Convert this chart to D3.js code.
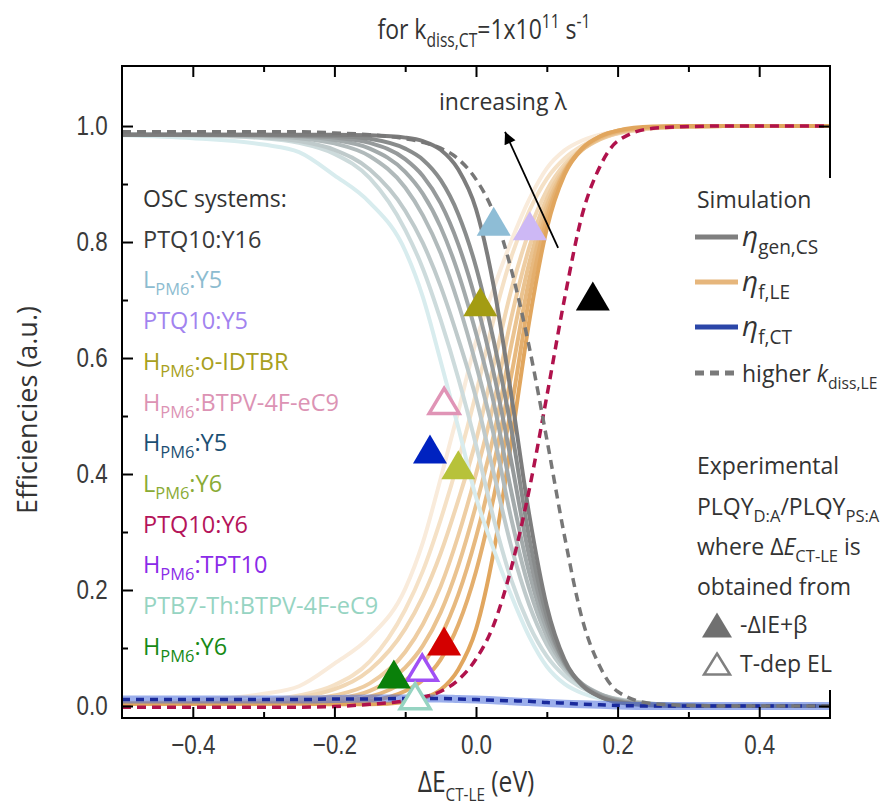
<!DOCTYPE html>
<html>
<head>
<meta charset="utf-8">
<script src="https://cdn.jsdelivr.net/npm/d3@7"></script>
<style>
body { margin: 0; background: #fff; }
svg { display: block; font-family: "Open Sans", sans-serif; }
text { white-space: pre; }
.tick text { font-size: 28px; fill: #3a3a3a; }
.tick line { stroke: #000; stroke-width: 2; }
</style>
</head>
<body>
<svg id="chart" width="892" height="809"></svg>
<script>
// energy offset grid (eV)
var xs = [-0.5,-0.4,-0.3,-0.25,-0.2,-0.15,-0.1,-0.075,-0.05,-0.025,0,0.025,0.05,0.075,0.1,0.125,0.15,0.175,0.2,0.25,0.3,0.35,0.5];

// eta_gen,CS for increasing lambda (dark -> light)
var genCS0 = [0.985,0.985,0.985,0.985,0.985,0.984,0.980,0.974,0.959,0.925,0.857,0.724,0.535,0.331,0.172,0.080,0.036,0.016,0.007,0.001,0,0,0];
var genCS1 = [0.985,0.985,0.985,0.984,0.983,0.978,0.961,0.942,0.907,0.848,0.757,0.630,0.477,0.291,0.155,0.076,0.035,0.016,0.007,0.002,0,0,0];
var genCS2 = [0.985,0.985,0.984,0.983,0.980,0.971,0.943,0.914,0.867,0.796,0.698,0.574,0.421,0.259,0.144,0.075,0.037,0.018,0.009,0.002,0.001,0,0];
var genCS3 = [0.985,0.985,0.984,0.982,0.976,0.961,0.921,0.883,0.826,0.746,0.643,0.523,0.369,0.230,0.132,0.072,0.038,0.020,0.010,0.003,0.001,0,0];
var genCS4 = [0.985,0.985,0.983,0.979,0.970,0.948,0.894,0.846,0.781,0.694,0.589,0.468,0.322,0.203,0.120,0.068,0.038,0.021,0.011,0.003,0.001,0,0];
var genCS5 = [0.985,0.984,0.980,0.974,0.959,0.925,0.854,0.798,0.724,0.633,0.531,0.402,0.274,0.175,0.106,0.062,0.036,0.020,0.012,0.004,0.001,0,0];
var genCS6 = [0.985,0.984,0.979,0.971,0.952,0.910,0.821,0.754,0.666,0.565,0.450,0.323,0.217,0.140,0.086,0.052,0.031,0.018,0.011,0.004,0.001,0,0];
var genCS7 = [0.984,0.979,0.968,0.955,0.915,0.868,0.785,0.705,0.595,0.480,0.360,0.270,0.190,0.120,0.068,0.038,0.022,0.013,0.008,0.003,0.001,0.0005,0];

// eta_f,LE for increasing lambda (dark -> light)
var fLE0 = [0.004,0.004,0.004,0.004,0.003,0.003,0.007,0.013,0.028,0.063,0.132,0.266,0.457,0.662,0.823,0.916,0.961,0.982,0.992,0.999,1,1,1];
var fLE1 = [0.004,0.004,0.004,0.005,0.005,0.009,0.026,0.045,0.080,0.140,0.232,0.360,0.515,0.702,0.840,0.920,0.962,0.982,0.992,0.998,1,1,1];
var fLE2 = [0.004,0.004,0.005,0.006,0.008,0.016,0.044,0.073,0.120,0.192,0.291,0.416,0.571,0.734,0.851,0.921,0.960,0.980,0.990,0.998,0.999,1,1];
var fLE3 = [0.004,0.004,0.005,0.007,0.012,0.026,0.066,0.104,0.161,0.242,0.346,0.467,0.623,0.763,0.863,0.924,0.959,0.978,0.989,0.997,0.999,1,1];
var fLE4 = [0.004,0.004,0.006,0.010,0.018,0.039,0.093,0.141,0.206,0.294,0.400,0.522,0.670,0.790,0.875,0.928,0.959,0.977,0.988,0.997,0.999,1,1];
var fLE5 = [0.004,0.005,0.009,0.015,0.029,0.062,0.133,0.189,0.263,0.355,0.458,0.588,0.718,0.818,0.889,0.934,0.961,0.978,0.987,0.996,0.999,1,1];
var fLE6 = [0.004,0.005,0.010,0.018,0.036,0.077,0.166,0.233,0.321,0.423,0.539,0.667,0.775,0.853,0.909,0.944,0.966,0.980,0.988,0.996,0.999,1,1];
var fLE7 = [0.005,0.010,0.021,0.034,0.073,0.119,0.202,0.282,0.392,0.508,0.629,0.720,0.802,0.873,0.927,0.958,0.975,0.985,0.991,0.997,0.999,1,1];

// eta_f,CT
var fCT = [0.011,0.011,0.011,0.011,0.012,0.013,0.013,0.013,0.013,0.012,0.011,0.010,0.008,0.007,0.005,0.004,0.003,0.002,0.001,0,0,0,0];

// higher k_diss,LE (dashed)
var genCSHigh = [0.99,0.99,0.99,0.99,0.988,0.985,0.978,0.972,0.962,0.943,0.908,0.85,0.752,0.62,0.46,0.293,0.15,0.068,0.025,0.004,0.001,0,0];
var fLEHigh = [-0.002,-0.002,-0.002,-0.002,-0.001,0.003,0.009,0.015,0.025,0.045,0.081,0.14,0.239,0.372,0.534,0.702,0.847,0.93,0.974,0.996,0.999,1,1];
var fCTHigh = [0.011,0.011,0.011,0.011,0.012,0.012,0.013,0.013,0.013,0.012,0.011,0.010,0.009,0.008,0.006,0.005,0.003,0.002,0.001,0,0,0,0];

var grayColors = ["#7d7d7d","#898c8c","#969a9b","#a3aaab","#b1babb","#bfcacb","#cddbdc","#d8ecee"];
var orangeColors = ["#e1a65e","#e4af6e","#e7b97f","#eac390","#eecda2","#f1d7b4","#f5e1c6","#f9ebdb"];

// experimental points
var systemNames = ["PTQ10:Y16","L_{PM6}:Y5","PTQ10:Y5","H_{PM6}:o-IDTBR","H_{PM6}:BTPV-4F-eC9","H_{PM6}:Y5","L_{PM6}:Y6","PTQ10:Y6","H_{PM6}:TPT10","PTB7-Th:BTPV-4F-eC9","H_{PM6}:Y6"];
var systemTextColors = ["#3a3a3a","#8dbcd0","#a283ef","#a8a020","#dc93b4","#1c4f73","#8aab35","#b5145a","#8a2be8","#96d4c2","#168a16"];
var markerColors = ["#000000","#8ebdd6","#cdb8f5","#a39c12","#e094b6","#0022c0","#b7c23a","#d40000","#a050f5","#96d4c2","#0a800a"];
var markerX = [0.165,0.025,0.076,0.006,-0.045,-0.065,-0.025,-0.045,-0.076,-0.086,-0.116];
var markerY = [0.707,0.836,0.828,0.697,0.526,0.443,0.416,0.112,0.066,0.017,0.055];
var markerOpen = [false,false,false,false,true,false,false,false,true,true,false];

var xMajor = [-0.4,-0.2,0,0.2,0.4];
var xMinor = [-0.3,-0.1,0.1,0.3];
var xTickLabels = ["\u22120.4","\u22120.2","0.0","0.2","0.4"];
var yMajor = [0,0.2,0.4,0.6,0.8,1.0];
var yMinor = [0.1,0.3,0.5,0.7,0.9];
var yTickLabels = ["0.0","0.2","0.4","0.6","0.8","1.0"];

var plotL = 122, plotR = 830, plotT = 66, plotB = 718;
var svg = d3.select("#chart");
var x = d3.scaleLinear().domain([-0.5, 0.5]).range([plotL, plotR]);
var y = d3.scaleLinear().domain([-0.0207, 1.1035]).range([plotB, plotT]);

function rich(t, str, fs, subScale) {
    var parts = str.split(/(_\{[^}]*\}|\^\{[^}]*\}|\*[^*]*\*)/);
    var cur = 0, sc = subScale || 0.68;
    parts.forEach(function (p) {
        if (!p) return;
        var off = 0, size = fs, txt = p, ital = false;
        if (p.charAt(0) == "_") { off = 0.3 * fs; size = sc * fs; txt = p.slice(2, -1); }
        else if (p.charAt(0) == "^") { off = -0.4 * fs; size = sc * fs; txt = p.slice(2, -1); }
        else if (p.charAt(0) == "*") { ital = true; txt = p.slice(1, -1); }
        var s = t.append("tspan").attr("dy", off - cur).style("font-size", size + "px").text(txt);
        if (ital) s.style("font-style", "italic");
        cur = off;
    });
    return t;
}

function triPath(w, h) {
    return "M0," + (-h / 2) + "L" + (w / 2) + "," + (h / 2) + "L" + (-w / 2) + "," + (h / 2) + "Z";
}

svg.append("defs").append("clipPath").attr("id", "plotClip")
    .append("rect").attr("x", plotL).attr("y", plotT).attr("width", plotR - plotL).attr("height", plotB - plotT);
svg.select("defs").append("marker").attr("id", "head")
    .attr("viewBox", "0 0 10 10").attr("refX", 10).attr("refY", 5)
    .attr("markerUnits", "userSpaceOnUse").attr("markerWidth", 16).attr("markerHeight", 12)
    .attr("orient", "auto")
    .append("path").attr("d", "M0,0L10,5L0,10Z").attr("fill", "#000");

var line = d3.line()
    .x(function (d, i) { return x(xs[i]); })
    .y(function (d) { return y(d); })
    .curve(d3.curveMonotoneX);

var curves = svg.append("g").attr("clip-path", "url(#plotClip)");
var orangeSet = [fLE0, fLE1, fLE2, fLE3, fLE4, fLE5, fLE6, fLE7];
var graySet = [genCS0, genCS1, genCS2, genCS3, genCS4, genCS5, genCS6, genCS7];

for (var i = 7; i >= 0; i--) {
    curves.append("path").attr("d", line(orangeSet[i]))
        .attr("fill", "none").attr("stroke", orangeColors[i]).attr("stroke-width", 4);
}
for (var i = 7; i >= 0; i--) {
    curves.append("path").attr("d", line(graySet[i]))
        .attr("fill", "none").attr("stroke", grayColors[i]).attr("stroke-width", 4);
}
curves.append("path").attr("d", line(fCT))
    .attr("fill", "none").attr("stroke", "#4a6ddc").attr("stroke-opacity", 0.55).attr("stroke-width", 8);
curves.append("path").attr("d", line(fLEHigh))
    .attr("fill", "none").attr("stroke", "#b0124c").attr("stroke-width", 3.5).attr("stroke-dasharray", "9,6");
curves.append("path").attr("d", line(fCTHigh))
    .attr("fill", "none").attr("stroke", "#1a2a9c").attr("stroke-width", 3.5).attr("stroke-dasharray", "8,6");
curves.append("path").attr("d", line(genCSHigh))
    .attr("fill", "none").attr("stroke", "#777").attr("stroke-width", 3.5).attr("stroke-dasharray", "9,6");

// markers
svg.append("g").selectAll("path").data(markerX).enter().append("path")
    .attr("d", function (d, i) { return markerOpen[i] ? triPath(30, 25) : triPath(34, 29); })
    .attr("transform", function (d, i) { return "translate(" + x(d) + "," + y(markerY[i]) + ")"; })
    .attr("fill", function (d, i) { return markerOpen[i] ? "#fff" : markerColors[i]; })
    .attr("stroke", function (d, i) { return markerOpen[i] ? markerColors[i] : "none"; })
    .attr("stroke-width", 3.5);

// arrow
svg.append("line")
    .attr("x1", x(0.116)).attr("y1", y(0.79)).attr("x2", x(0.041)).attr("y2", y(0.99))
    .attr("stroke", "#000").attr("stroke-width", 1.8).attr("marker-end", "url(#head)");
svg.append("text").attr("x", x(0.038)).attr("y", y(1.028)).attr("text-anchor", "middle")
    .style("font-size", "23px").attr("fill", "#333").text("increasing \u03bb");

// axes
function axisG(axis, tx, ty) {
    var g = svg.append("g").attr("transform", "translate(" + tx + "," + ty + ")").call(axis);
    g.select(".domain").remove();
    g.selectAll(".tick text").attr("transform", "scale(0.8,1)");
    return g;
}
axisG(d3.axisBottom(x).tickValues(xMajor).tickSize(-11).tickPadding(16)
    .tickFormat(function (d, i) { return xTickLabels[i]; }), 0, plotB);
axisG(d3.axisBottom(x).tickValues(xMinor).tickSize(-6).tickFormat(""), 0, plotB);
axisG(d3.axisTop(x).tickValues(xMajor).tickSize(-11).tickFormat(""), 0, plotT);
axisG(d3.axisTop(x).tickValues(xMinor).tickSize(-6).tickFormat(""), 0, plotT);
axisG(d3.axisLeft(y).tickValues(yMajor).tickSize(-11).tickPadding(18)
    .tickFormat(function (d, i) { return yTickLabels[i]; }), plotL, 0);
axisG(d3.axisLeft(y).tickValues(yMinor).tickSize(-6).tickFormat(""), plotL, 0);
axisG(d3.axisRight(y).tickValues(yMajor).tickSize(-11).tickFormat(""), plotR, 0);
axisG(d3.axisRight(y).tickValues(yMinor).tickSize(-6).tickFormat(""), plotR, 0);
svg.append("rect").attr("x", plotL).attr("y", plotT).attr("width", plotR - plotL).attr("height", plotB - plotT)
    .attr("fill", "none").attr("stroke", "#000").attr("stroke-width", 2);

// titles
rich(svg.append("text").attr("transform", "translate(484,39) scale(0.82,1)").attr("text-anchor", "middle")
    .attr("fill", "#333"), "for k_{diss,CT}=1x10^{11} s^{-1}", 28);
rich(svg.append("text").attr("transform", "translate(476,792) scale(0.82,1)").attr("text-anchor", "middle")
    .attr("fill", "#333"), "\u0394E_{CT-LE} (eV)", 30, 0.62);
svg.append("text").attr("transform", "translate(37,410) rotate(-90)")
    .attr("text-anchor", "middle").attr("fill", "#333").style("font-size", "27px").text("Efficiencies (a.u.)");

// OSC system list
var sysG = svg.append("g");
sysG.append("text").attr("x", 143).attr("y", 207).attr("fill", "#333").style("font-size", "23px").text("OSC systems:");
systemNames.forEach(function (n, i) {
    rich(sysG.append("text").attr("x", 143).attr("y", 207 + 40.7 * (i + 1)).attr("fill", systemTextColors[i]), n, 23.5, 0.7);
});

// legend box on the right
var leg = svg.append("g");
leg.append("rect").attr("x", 680).attr("y", 178).attr("width", 212).attr("height", 512).attr("fill", "#fff");
leg.append("text").attr("x", 697).attr("y", 208).attr("fill", "#333").style("font-size", "23px").text("Simulation");
var simLabels = ["*\u03b7*_{gen,CS}", "*\u03b7*_{f,LE}", "*\u03b7*_{f,CT}", "higher *k*_{diss,LE}"];
var simColors = ["#7f7f7f", "#e6b67c", "#2b46a8", "#7a7a7a"];
var simY = [237, 282, 327, 373];
simLabels.forEach(function (s, i) {
    leg.append("line").attr("x1", 695).attr("x2", 738).attr("y1", simY[i]).attr("y2", simY[i])
        .attr("stroke", simColors[i]).attr("stroke-width", 5)
        .attr("stroke-dasharray", i == 3 ? "9,6" : null);
    rich(leg.append("text").attr("x", 742).attr("y", simY[i] + 9).attr("fill", "#333"), s, i == 3 ? 23 : 28);
});
var expLines = ["Experimental", "PLQY_{D:A}/PLQY_{PS:A}", "where \u0394*E*_{CT-LE} is", "obtained from"];
var expY = [474, 515, 555, 595];
expLines.forEach(function (s, i) {
    rich(leg.append("text").attr("x", 697).attr("y", expY[i]).attr("fill", "#333"), s, 23, 0.72);
});
leg.append("path").attr("d", triPath(30, 25)).attr("transform", "translate(717,625)").attr("fill", "#707070");
leg.append("path").attr("d", triPath(26, 21)).attr("transform", "translate(717,664)")
    .attr("fill", "#fff").attr("stroke", "#808080").attr("stroke-width", 2.5);
rich(leg.append("text").attr("x", 740).attr("y", 633).attr("fill", "#333"), "-\u0394IE+\u03b2", 23);
rich(leg.append("text").attr("x", 740).attr("y", 672).attr("fill", "#333"), "T-dep EL", 23);
</script>
</body>
</html>
